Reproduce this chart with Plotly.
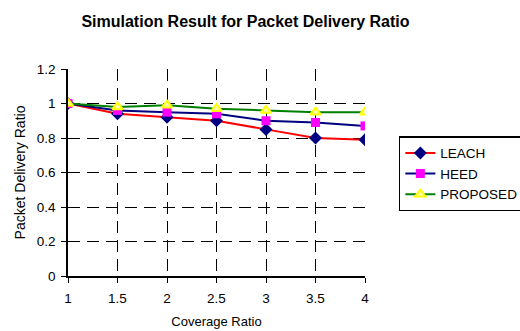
import plotly.graph_objects as go

coverage = [1, 1.5, 2, 2.5, 3, 3.5, 4]
leach = [1.0, 0.94, 0.92, 0.90, 0.85, 0.80, 0.79]
heed = [1.0, 0.96, 0.95, 0.94, 0.90, 0.89, 0.87]
proposed = [1.0, 0.98, 0.99, 0.97, 0.96, 0.95, 0.95]

x_ticks = [1, 1.5, 2, 2.5, 3, 3.5, 4]
x_tick_text = ["1", "1.5", "2", "2.5", "3", "3.5", "4"]
y_ticks = [0, 0.2, 0.4, 0.6, 0.8, 1.0, 1.2]
y_tick_text = ["0", "0.2", "0.4", "0.6", "0.8", "1", "1.2"]
x_grid = [1.5, 2, 2.5, 3, 3.5]
y_grid = [0.2, 0.4, 0.6, 0.8, 1.0]

FONT = "Liberation Sans, Arial, sans-serif"

fig = go.Figure()
# invisible trace so the overlay (grid-only) axes are rendered beneath data
fig.add_trace(go.Scatter(x=[None], y=[None], xaxis="x2", yaxis="y2",
                         showlegend=False, hoverinfo="skip"))
fig.add_trace(go.Scatter(
    x=coverage, y=leach, name="LEACH", mode="lines+markers",
    line=dict(color="#ff0000", width=2),
    marker=dict(symbol="diamond", size=10, color="#000080", line=dict(width=0)),
))
fig.add_trace(go.Scatter(
    x=coverage, y=heed, name="HEED", mode="lines+markers",
    line=dict(color="#000080", width=2),
    marker=dict(symbol="square", size=9, color="#ff00ff", line=dict(width=0)),
))
fig.add_trace(go.Scatter(
    x=coverage, y=proposed, name="PROPOSED", mode="lines+markers",
    line=dict(color="#008000", width=2),
    marker=dict(symbol="triangle-up", size=9, color="#ffffb0",
                line=dict(color="#ffff00", width=2)),
))

grid_style = dict(showgrid=True, gridcolor="black", gridwidth=1,
                  griddash="12px,7px", showticklabels=False, ticks="",
                  showline=False, zeroline=False)

fig.update_layout(
    width=520, height=331,
    margin=dict(l=68, r=155, t=69, b=55, autoexpand=False),
    paper_bgcolor="white", plot_bgcolor="white",
    font=dict(family=FONT, size=13, color="black"),
    title=dict(text="<b>Simulation Result for Packet Delivery Ratio</b>",
               x=0.472, xanchor="center", y=0.935, yanchor="middle",
               font=dict(size=16, family=FONT)),
    xaxis=dict(range=[1, 4], tickmode="array", tickvals=x_ticks, ticktext=x_tick_text,
               showgrid=False, zeroline=False, showline=True, linecolor="black",
               linewidth=1.5, ticks="outside", ticklen=5, tickcolor="black",
               ticklabelstandoff=4,
               title=dict(text="Coverage Ratio", font=dict(size=13), standoff=12),
               tickfont=dict(size=13.5)),
    yaxis=dict(range=[0, 1.2], tickmode="array", tickvals=y_ticks, ticktext=y_tick_text,
               showgrid=False, zeroline=False, showline=True, linecolor="black",
               linewidth=1.5, ticks="outside", ticklen=5, tickcolor="black",
               ticklabelstandoff=3,
               title=dict(text="Packet Delivery Ratio", font=dict(size=14), standoff=8),
               tickfont=dict(size=13.5)),
    xaxis2=dict(overlaying="x", anchor="y", range=[1, 4], tickmode="array",
                tickvals=x_grid, **grid_style),
    yaxis2=dict(overlaying="y", anchor="x", range=[0, 1.2], tickmode="array",
                tickvals=y_grid, **grid_style),
    legend=dict(x=1.114, y=0.675, xanchor="left", yanchor="top",
                bordercolor="black", borderwidth=1.5, bgcolor="white",
                font=dict(size=13.5, family=FONT), tracegroupgap=0,
                itemwidth=30),
    showlegend=True,
)

fig.write_html("out.html")
